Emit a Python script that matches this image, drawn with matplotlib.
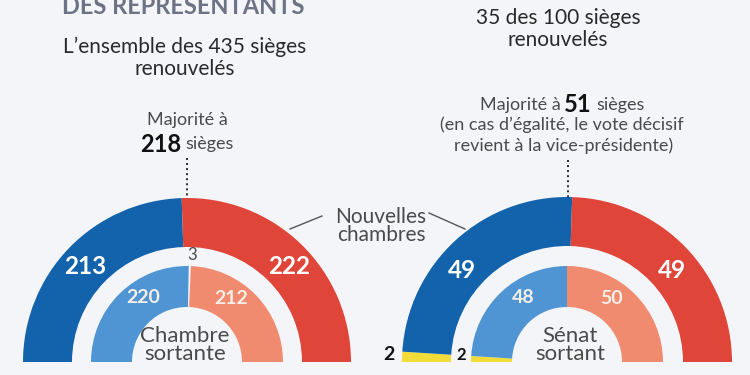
import matplotlib
matplotlib.use("Agg")
import matplotlib.pyplot as plt
from matplotlib.patches import Wedge
import numpy as np

# ---------------- data ----------------
house_new_labels = ["Démocrates", "Républicains"]
house_new = [213, 222]
house_old_labels = ["Démocrates", "Vacants", "Républicains"]
house_old = [220, 3, 212]
senate_new_labels = ["Indépendants", "Démocrates", "Républicains"]
senate_new = [2, 49, 49]
senate_old_labels = ["Indépendants", "Démocrates", "Républicains"]
senate_old = [2, 48, 50]
house_total = 435
senate_total = 100
house_majority = 218
senate_majority = 51

# ---------------- style ----------------
BG = "#F4F5F9"
C_DEM = "#1262AC"
C_REP = "#E0453A"
C_DEM_L = "#4F95D3"
C_REP_L = "#F08B6F"
C_IND = "#F3DC3A"
TXT = "#2A2A2A"
GREY = "#4A4A4A"
FONT = ["Lato", "DejaVu Sans"]
plt.rcParams["font.family"] = FONT

W, H = 750, 375
fig = plt.figure(figsize=(7.5, 3.75), dpi=100, facecolor=BG)
ax = fig.add_axes([0, 0, 1, 1])
ax.set_xlim(0, W)
ax.set_ylim(0, H)
ax.set_aspect("equal")
ax.axis("off")
ax.set_facecolor(BG)


def Y(y):
    return H - y


R_OUT, W_OUT = 164, 49
R_IN, W_IN = 96, 41


def ring(cx, cy, values, total, colors, r, w, skip=()):
    cum = 0
    spans = []
    for i, v in enumerate(values):
        t2 = 180 - cum / total * 180
        cum += v
        t1 = 180 - cum / total * 180
        spans.append((t1, t2))
        if i in skip:
            continue
        ax.add_patch(Wedge((cx, Y(cy)), r, t1, t2, width=w,
                           facecolor=colors[i], edgecolor="none"))
    return spans


def polar(cx, cy, r, ang):
    a = np.deg2rad(ang)
    return cx + r * np.cos(a), Y(cy) + r * np.sin(a)


def rich_line(x, y, parts):
    texts = []
    for s, props in parts:
        texts.append(ax.text(0, Y(y), s, va="center", ha="left", **props))
    fig.canvas.draw()
    rend = fig.canvas.get_renderer()
    widths = [t.get_window_extent(rend).width for t in texts]
    gaps = [p.get("fontsize", 12) * 0.26 for _, p in parts]
    total = sum(widths) + sum(gaps[:-1])
    x0 = x - total / 2
    for t, w_, g in zip(texts, widths, gaps):
        t.set_x(x0)
        x0 += w_ + g


# ---------------- left: Chambre ----------------
LCX, LCY = 187, 362
ring(LCX, LCY, house_new, house_total, [C_DEM, C_REP], R_OUT, W_OUT)
ring(LCX, LCY, house_old, house_total, [C_DEM_L, BG, C_REP_L], R_IN, W_IN, skip=(1,))

rmo = R_OUT - W_OUT / 2
rmi = R_IN - W_IN / 2
for v, ang in zip(house_new, [137, 43]):
    x, y = polar(LCX, LCY, rmo, ang)
    ax.text(x, y, str(v), color="white", fontsize=17.5, fontweight="bold",
            ha="center", va="center")
for v, ang in zip([house_old[0], house_old[2]], [124, 55]):
    x, y = polar(LCX, LCY, rmi + 2, ang)
    ax.text(x, y, str(v), color="#F6EEE8", fontsize=14, fontweight="bold",
            ha="center", va="center")
ax.text(192, Y(255), str(house_old[1]), color=GREY, fontsize=12,
        ha="center", va="center")
ax.text(LCX - 2, Y(345), "Chambre\nsortante", color=GREY, fontsize=16,
        ha="center", va="center", linespacing=0.9)

# majority dotted line
ax.plot([LCX, LCX], [Y(158), Y(LCY - R_OUT)], color=TXT, lw=1.4,
        linestyle=(0, (1, 1.6)))
ax.text(LCX, Y(120), "Majorité à", color=GREY, fontsize=13,
        ha="center", va="center")
rich_line(LCX, 144, [(str(house_majority), dict(fontsize=17, fontweight="bold", color="#111111")),
                     ("sièges", dict(fontsize=13, color=GREY))])

ax.text(185, Y(47), "L’ensemble des 435 sièges", color=TXT, fontsize=15,
        ha="center", va="center")
ax.text(185, Y(69), "renouvelés", color=TXT, fontsize=15,
        ha="center", va="center")
ax.text(183, Y(7), "DES REPRÉSENTANTS", color="#6C7384", fontsize=17,
        fontweight="bold", ha="center", va="center")

# ---------------- right: Sénat ----------------
RCX, RCY = 567, 362
ring(RCX, RCY, senate_new, senate_total, [C_IND, C_DEM, C_REP], R_OUT + 1, W_OUT)
ring(RCX, RCY, senate_old, senate_total, [C_IND, C_DEM_L, C_REP_L], R_IN, W_IN)

for v, ang in zip(senate_new[1:], [139, 41]):
    x, y = polar(RCX, RCY, rmo, ang)
    ax.text(x, y, str(v), color="white", fontsize=17.5, fontweight="bold",
            ha="center", va="center")
for v, ang in zip(senate_old[1:], [124, 55]):
    x, y = polar(RCX, RCY, rmi + 2, ang)
    ax.text(x, y, str(v), color="#F6EEE8", fontsize=14, fontweight="bold",
            ha="center", va="center")
ax.text(RCX - R_OUT - 14, Y(355), str(senate_new[0]), color="#111111",
        fontsize=14, fontweight="bold", ha="center", va="center")
ax.text(RCX - R_IN - 10, Y(355), str(senate_old[0]), color="#111111",
        fontsize=12, fontweight="bold", ha="center", va="center")
ax.text(RCX + 3, Y(345), "Sénat\nsortant", color=GREY, fontsize=16,
        ha="center", va="center", linespacing=0.9)

ax.plot([RCX + 1, RCX + 1], [Y(160), Y(RCY - R_OUT)], color=TXT, lw=1.4,
        linestyle=(0, (1, 1.6)))
rich_line(RCX - 5, 105, [("Majorité à", dict(fontsize=13, color=GREY)),
                         (str(senate_majority), dict(fontsize=17, fontweight="bold", color="#111111")),
                         ("sièges", dict(fontsize=13, color=GREY))])
ax.text(RCX - 5, Y(125), "(en cas d’égalité, le vote décisif", color=GREY,
        fontsize=13, ha="center", va="center")
ax.text(RCX - 3, Y(146), "revient à la vice-présidente)", color=GREY,
        fontsize=13, ha="center", va="center")

ax.text(558, Y(18), "35 des 100 sièges", color=TXT, fontsize=15,
        ha="center", va="center")
ax.text(558, Y(40), "renouvelés", color=TXT, fontsize=15,
        ha="center", va="center")

# ---------------- "Nouvelles chambres" ----------------
ax.text(381, Y(226), "Nouvelles\nchambres", color=GREY, fontsize=15,
        ha="center", va="center", linespacing=0.9)
ax.plot([322, 290], [Y(216), Y(229)], color="#555555", lw=1)
ax.plot([429, 465], [Y(213), Y(229)], color="#555555", lw=1)

fig.savefig("out.png", dpi=100, facecolor=BG)
